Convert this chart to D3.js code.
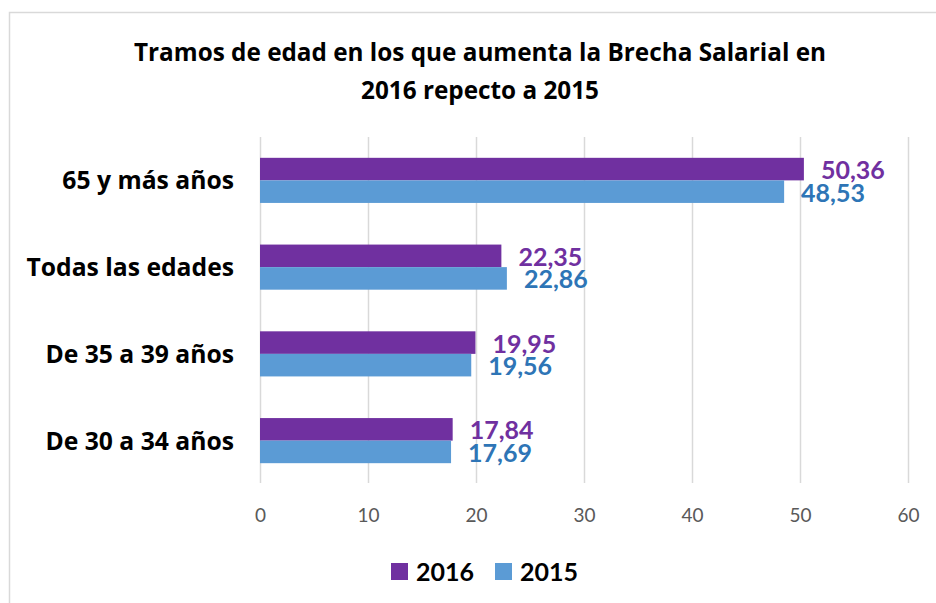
<!DOCTYPE html>
<html>
<head>
<meta charset="utf-8">
<script src="https://cdn.jsdelivr.net/npm/d3@7"></script>
<style>
  body { margin: 0; background: #fff; }
  svg { display: block; font-family: Lato, "Open Sans", sans-serif; }
</style>
</head>
<body>
<div id="chart"></div>
<script>
// chart values
const categories = ["65 y más años", "Todas las edades", "De 35 a 39 años", "De 30 a 34 años"];
const series = ["2016", "2015"];
const values2016 = [50.36, 22.35, 19.95, 17.84];
const values2015 = [48.53, 22.86, 19.56, 17.69];
const xTicks = [0, 10, 20, 30, 40, 50, 60];
const titleLines = ["Tramos de edad en los que aumenta la Brecha Salarial en", "2016 repecto a 2015"];

const WIDTH = 936, HEIGHT = 603;
const PLOT = { left: 260, right: 908, top: 137, bottom: 483 };
const barColor = { "2016": "#7030A0", "2015": "#5B9BD5" };
const textColor = { "2016": "#7030A0", "2015": "#2E75B6" };

const fmt = d3.formatLocale({ decimal: ",", thousands: ".", grouping: [3], currency: ["", "€"] }).format(".2f");

const data = categories.map((c, i) => ({
  category: c,
  values: [{ key: "2016", value: values2016[i] }, { key: "2015", value: values2015[i] }]
}));

let svg = d3.select("#chart").append("svg")
  .attr("width", WIDTH)
  .attr("height", HEIGHT);

// outer chart border (only top and left visible)
svg.append("rect")
  .attr("x", 9.5).attr("y", 12.5)
  .attr("width", 1000).attr("height", 1000)
  .attr("fill", "none")
  .attr("stroke", "#d9d9d9")
  .attr("stroke-width", 1.5);

// title
svg.append("g").selectAll("text")
  .data(titleLines)
  .enter().append("text")
  .attr("x", 480)
  .attr("y", (d, i) => 61 + i * 38)
  .attr("text-anchor", "middle")
  .attr("font-family", "'Open Sans', sans-serif")
  .attr("font-size", 24.3)
  .attr("font-weight", "bold")
  .attr("fill", "#000")
  .text(d => d);

let xScale = d3.scaleLinear().domain([0, 60]).range([PLOT.left, PLOT.right]);
let yScale = d3.scaleBand().domain(categories).range([PLOT.top, PLOT.bottom + 1])
  .paddingInner(0.48).paddingOuter(0.24);
let ySub = d3.scaleBand().domain(series).range([0, yScale.bandwidth()]);

// x axis with gridlines
let xAxis = svg.append("g")
  .attr("transform", "translate(0," + PLOT.bottom + ")")
  .call(d3.axisBottom(xScale).tickValues(xTicks)
    .tickSize(-(PLOT.bottom - PLOT.top))
    .tickPadding(26));
xAxis.select(".domain").remove();
xAxis.selectAll(".tick line")
  .attr("stroke", "#d9d9d9")
  .attr("stroke-width", 1.5);
xAxis.selectAll(".tick text")
  .attr("font-family", "Lato, sans-serif")
  .attr("font-size", 19)
  .attr("fill", "#595959");

// category labels
let yAxis = svg.append("g")
  .attr("transform", "translate(" + (PLOT.left - 26) + ",0)")
  .call(d3.axisLeft(yScale).tickSize(0).tickPadding(0));
yAxis.select(".domain").remove();
yAxis.selectAll(".tick text")
  .attr("font-family", "'Open Sans', sans-serif")
  .attr("font-size", 24.7)
  .attr("font-weight", "bold")
  .attr("fill", "#000")
  .attr("dy", "0.36em");

// bars
let groups = svg.append("g").selectAll("g")
  .data(data)
  .enter().append("g")
  .attr("transform", d => "translate(0," + yScale(d.category) + ")");

groups.selectAll("rect")
  .data(d => d.values)
  .enter().append("rect")
  .attr("x", xScale(0))
  .attr("y", d => ySub(d.key))
  .attr("width", d => xScale(d.value) - xScale(0))
  .attr("height", ySub.bandwidth())
  .attr("fill", d => barColor[d.key]);

groups.selectAll("text")
  .data(d => d.values)
  .enter().append("text")
  .attr("x", d => xScale(d.value) + 17)
  .attr("y", d => ySub(d.key) + ySub.bandwidth() / 2 + 1)
  .attr("dy", "0.36em")
  .attr("font-size", 25)
  .attr("font-weight", "bold")
  .attr("fill", d => textColor[d.key])
  .text(d => fmt(d.value));

// legend
let legend = svg.append("g").selectAll("g")
  .data(series)
  .enter().append("g")
  .attr("transform", (d, i) => "translate(" + (391 + i * 104) + ",563)");
legend.append("rect")
  .attr("width", 17).attr("height", 17)
  .attr("fill", d => barColor[d]);
legend.append("text")
  .attr("x", 25).attr("y", 18)
  .attr("font-size", 25)
  .attr("font-weight", "bold")
  .attr("fill", "#000")
  .text(d => d);
</script>
</body>
</html>
